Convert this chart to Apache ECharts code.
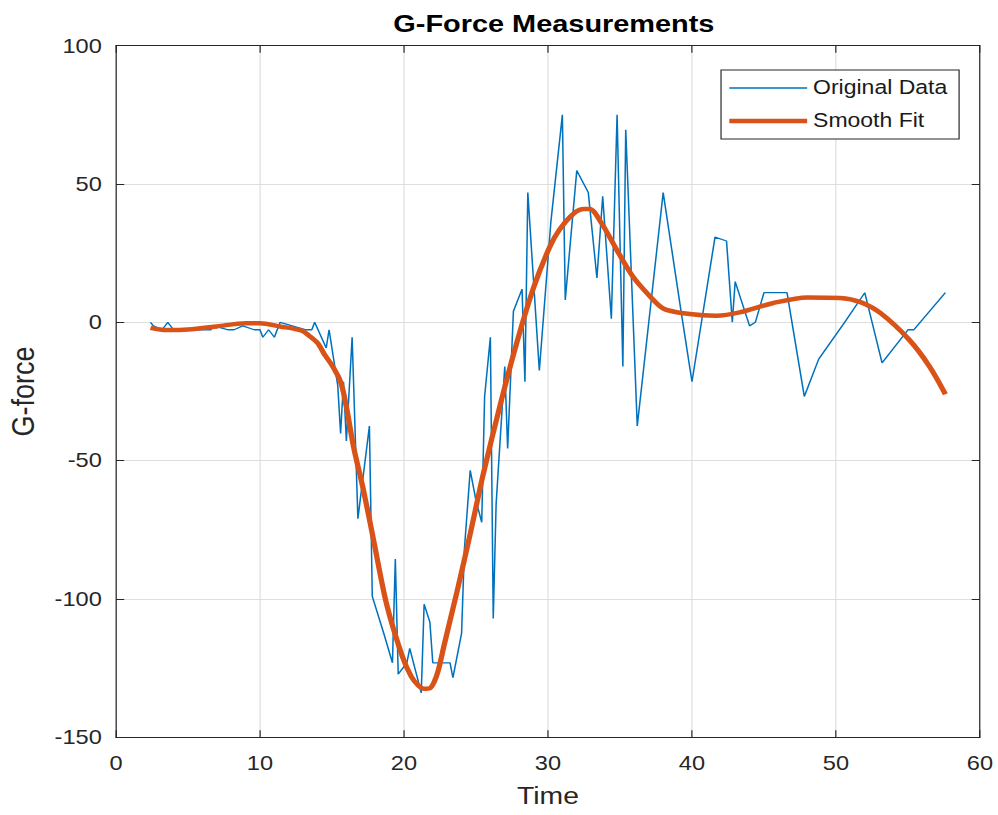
<!DOCTYPE html>
<html>
<head>
<meta charset="utf-8">
<script src="https://cdn.jsdelivr.net/npm/echarts@6/dist/echarts.min.js"></script>
<style>
html,body{margin:0;padding:0;background:#fff;overflow:hidden;}
#chart{width:846px;height:815px;transform:scaleX(1.1797);transform-origin:0 0;}
</style>
</head>
<body>
<div id="chart"></div>
<script>
// Original data (time, g-force)
var timeValues = [2.4,2.6,3.2,3.6,4.0,6.2,6.6,6.8,7.8,8.2,8.8,9.6,10.0,10.2,10.6,11.0,11.4,13.2,13.6,13.8,14.6,14.8,15.4,15.6,15.8,16.0,16.4,16.8,17.6,17.8,18.6,19.2,19.4,19.6,20.2,20.4,21.2,21.4,21.8,22.0,23.2,23.4,24.0,24.2,24.6,25.0,25.4,25.6,26.0,26.2,26.4,27.0,27.2,27.6,28.2,28.4,28.6,29.4,30.2,31.0,31.2,32.0,32.8,33.4,33.8,34.4,34.8,35.2,35.4,36.2,38.0,39.2,39.4,40.0,41.6,42.4,42.8,43.0,44.0,44.4,45.0,46.6,47.8,48.8,50.6,52.0,53.2,55.0,55.4,57.6];
var gforceValues = [0.0,-1.3,-2.7,0.0,-2.7,-2.7,-2.7,-1.3,-2.7,-2.7,-1.3,-2.7,-2.7,-5.4,-2.7,-5.4,0.0,-2.7,-2.7,0.0,-9.3,-2.7,-22.8,-40.2,-21.5,-42.9,-5.4,-71.0,-37.5,-99.1,-112.5,-123.1,-85.6,-127.2,-123.1,-117.9,-134.0,-101.9,-108.4,-123.1,-123.1,-128.5,-112.5,-81.8,-53.5,-64.4,-72.3,-26.8,-5.4,-107.1,-65.6,-16.0,-45.6,4.0,12.0,-21.5,46.9,-17.4,36.2,75.0,8.1,54.9,46.9,16.0,45.6,1.3,75.0,-16.0,69.6,-37.5,46.9,5.4,-1.3,-21.5,30.8,29.4,0.0,14.7,-1.3,0.0,10.7,10.7,-26.8,-13.3,0.0,10.7,-14.7,-2.7,-2.7,10.7];

// Smooth fit
var fitTime = [2.4,3.5,5.0,7.0,9.0,10.0,11.4,12.9,13.4,14.0,14.5,15.0,15.6,16.0,16.5,17.2,17.9,18.8,19.9,20.5,21.0,21.4,21.8,22.1,22.4,22.8,23.7,24.6,25.5,26.7,27.8,29.0,30.1,30.8,31.8,32.5,32.9,33.7,34.8,35.9,37.1,38.0,39.4,41.7,43.3,45.6,48.0,50.3,51.7,53.1,55.1,56.5,57.6];
var fitValues = [-2.0,-2.8,-2.6,-1.5,-0.3,-0.3,-1.5,-3.0,-4.8,-7.5,-11.8,-15.5,-21.5,-30.5,-45.0,-61.0,-79.0,-102.0,-121.0,-128.0,-131.3,-132.5,-132.3,-130.0,-125.5,-116.5,-97.0,-76.5,-55.0,-29.5,-8.0,12.5,27.0,33.5,39.4,41.0,41.0,36.0,26.0,16.5,9.3,5.0,3.3,2.4,3.6,6.9,9.0,8.8,7.3,3.3,-6.4,-16.0,-26.0];

var xTicks = {min: 0, max: 60, interval: 10};
var yTicks = {min: -150, max: 100, interval: 50};

var FONT = '"Liberation Sans", Arial, Helvetica, sans-serif';
var AX = '#262626';

function zip(a, b) { return a.map(function (v, i) { return [v, b[i]]; }); }

var chart = echarts.init(document.getElementById('chart'), null, {renderer: 'svg'});

function baseAxis(extra) {
  var o = {
    type: 'value',
    axisLine: {show: true, onZero: false, lineStyle: {color: AX, width: 1}},
    axisTick: {show: true, inside: true, length: 7, lineStyle: {color: AX, width: 1}},
    splitLine: {show: false},
    axisLabel: {show: false}
  };
  for (var k in extra) o[k] = extra[k];
  return o;
}

chart.setOption({
  animation: false,
  backgroundColor: '#fff',
  textStyle: {fontFamily: FONT},
  title: {
    text: 'G-Force Measurements',
    left: 464.5,
    textAlign: 'center',
    top: 6,
    textStyle: {fontFamily: FONT, fontSize: 24.5, fontWeight: 'bold', color: '#000'}
  },
  grid: {left: 98.3, right: 15.3, top: 45.7, bottom: 77.8, containLabel: false, outerBoundsMode: 'none'},
  legend: {
    orient: 'vertical',
    right: 33,
    top: 70,
    itemWidth: 66,
    itemHeight: 14,
    itemGap: 13,
    padding: [8, 10, 8, 7],
    backgroundColor: '#fff',
    borderColor: AX,
    borderWidth: 1,
    textStyle: {fontFamily: FONT, fontSize: 19.5, color: '#1a1a1a'},
    data: [
      {name: 'Original Data', icon: 'path://M0,0L66,0L66,1.5L0,1.5Z', itemStyle: {color: '#0072BD'}},
      {name: 'Smooth Fit', icon: 'path://M0,0L66,0L66,4.5L0,4.5Z', itemStyle: {color: '#D95319'}}
    ]
  },
  xAxis: [
    baseAxis({
      min: xTicks.min, max: xTicks.max, interval: xTicks.interval,
      position: 'bottom',
      splitLine: {show: true, lineStyle: {color: '#dedede', width: 1}},
      axisLabel: {show: true, fontFamily: FONT, fontSize: 20, color: AX, margin: 16},
      name: 'Time', nameLocation: 'middle', nameGap: 47,
      nameTextStyle: {fontFamily: FONT, fontSize: 24, color: AX}
    }),
    baseAxis({min: xTicks.min, max: xTicks.max, interval: xTicks.interval, position: 'top'})
  ],
  yAxis: [
    baseAxis({
      min: yTicks.min, max: yTicks.max, interval: yTicks.interval,
      position: 'left',
      splitLine: {show: true, lineStyle: {color: '#dedede', width: 1}},
      axisLabel: {show: true, fontFamily: FONT, fontSize: 20, color: AX, margin: 12},
      name: 'G-force', nameLocation: 'middle', nameGap: 66,
      nameTextStyle: {fontFamily: FONT, fontSize: 27, color: AX}
    }),
    baseAxis({min: yTicks.min, max: yTicks.max, interval: yTicks.interval, position: 'right'})
  ],
  series: [
    {
      name: 'Original Data',
      type: 'line',
      xAxisIndex: 0, yAxisIndex: 0,
      data: zip(timeValues, gforceValues),
      symbol: 'none',
      lineStyle: {color: '#0072BD', width: 1.3},
      itemStyle: {color: '#0072BD'},
      z: 2
    },
    {
      name: 'Smooth Fit',
      type: 'line',
      xAxisIndex: 0, yAxisIndex: 0,
      data: zip(fitTime, fitValues),
      symbol: 'none',
      smooth: 0.3,
      lineStyle: {color: '#D95319', width: 4.5},
      itemStyle: {color: '#D95319'},
      z: 3
    }
  ]
});
</script>
</body>
</html>
